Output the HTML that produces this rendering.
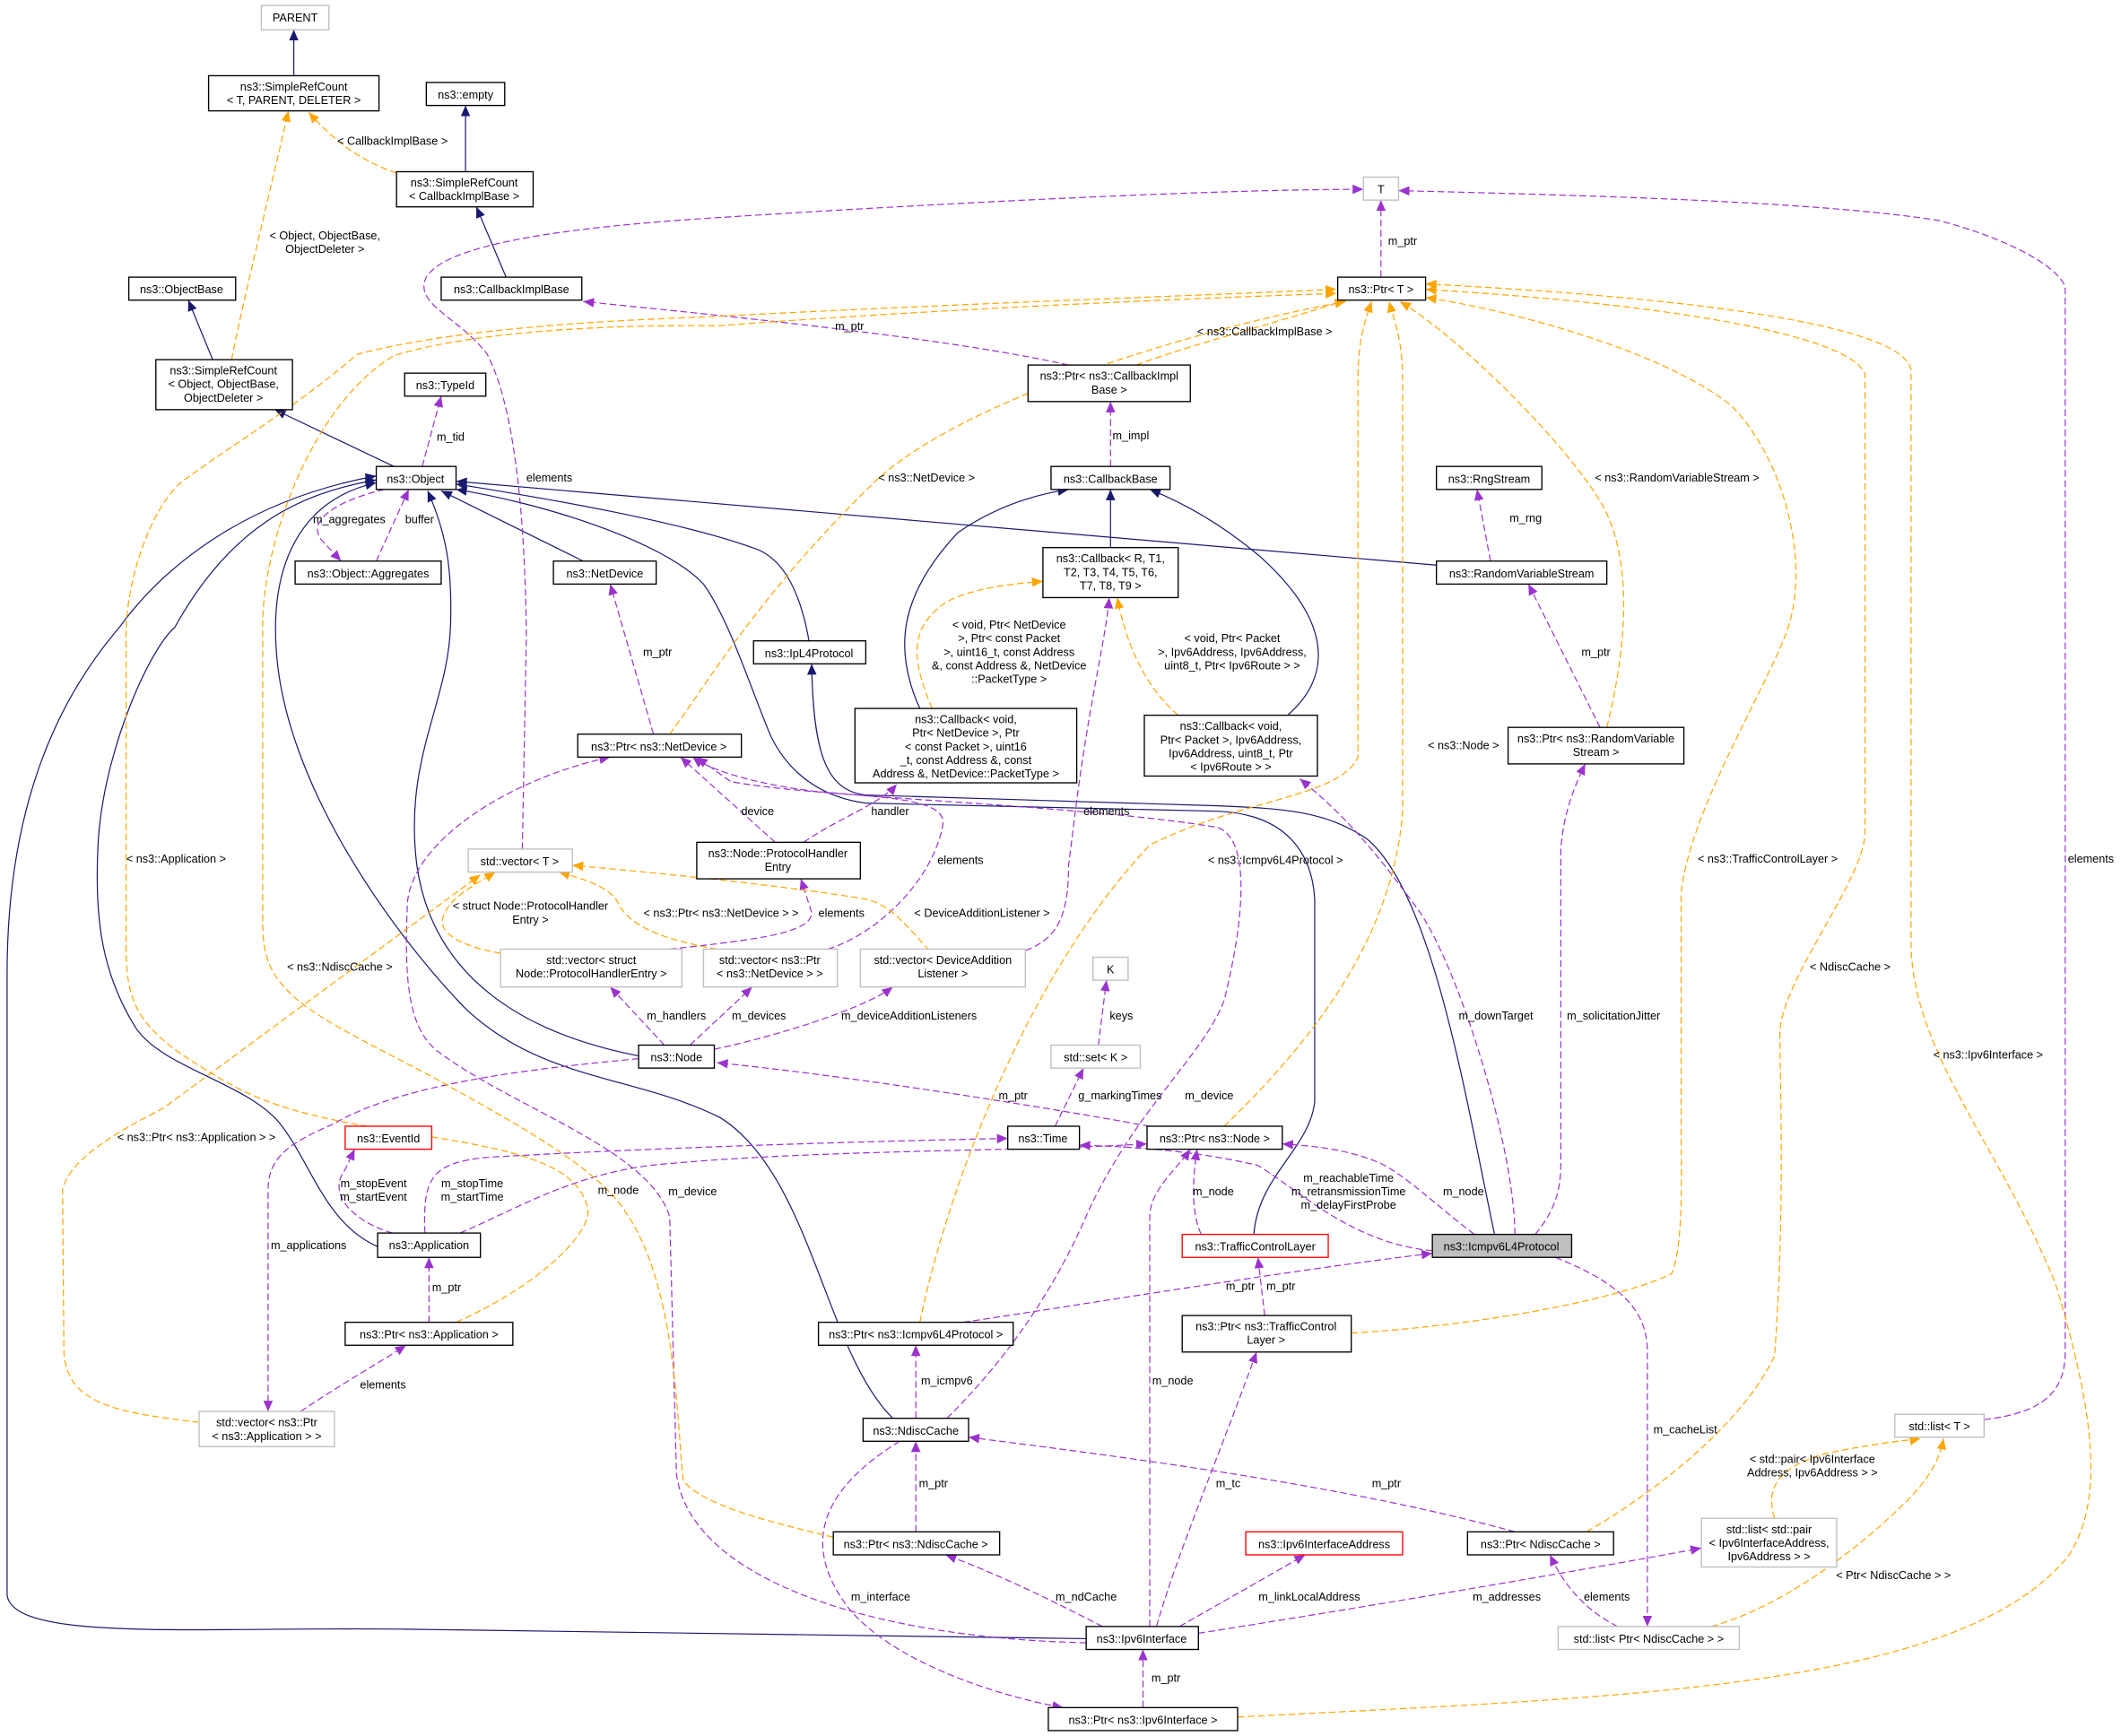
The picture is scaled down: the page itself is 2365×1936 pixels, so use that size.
<!DOCTYPE html>
<html><head><meta charset="utf-8"><style>
html,body{margin:0;padding:0;background:#fff;}
svg{display:block;}
text{font-family:"Liberation Sans",sans-serif;font-size:8.4px;fill:#000;}
.b{fill:#fff;stroke:#000;stroke-width:0.9;}
.g{fill:#fff;stroke:#bfbfbf;stroke-width:0.9;}
.r{fill:#fff;stroke:#ff0000;stroke-width:0.9;}
.h{fill:#bfbfbf;stroke:#000;stroke-width:0.9;}
.n{fill:none;stroke:#191970;stroke-width:0.8;marker-end:url(#mn);}
.p{fill:none;stroke:#9a32cd;stroke-width:0.8;stroke-dasharray:5,2.5;marker-end:url(#mp);}
.o{fill:none;stroke:#ffa500;stroke-width:0.8;stroke-dasharray:5,2.5;marker-end:url(#mo);}
</style></head><body>
<svg width="2365" height="1936" viewBox="0 0 1568 1284" xmlns="http://www.w3.org/2000/svg">
<defs>
<marker id="mn" markerUnits="userSpaceOnUse" markerWidth="10" markerHeight="8" refX="8" refY="3.5" orient="auto"><path d="M0,0 L8,3.5 L0,7 z" fill="#191970"/></marker>
<marker id="mp" markerUnits="userSpaceOnUse" markerWidth="10" markerHeight="8" refX="8" refY="3.5" orient="auto"><path d="M0,0 L8,3.5 L0,7 z" fill="#9a32cd"/></marker>
<marker id="mo" markerUnits="userSpaceOnUse" markerWidth="10" markerHeight="8" refX="8" refY="3.5" orient="auto"><path d="M0,0 L8,3.5 L0,7 z" fill="#ffa500"/></marker>
</defs>
<rect width="1568" height="1284" fill="#fff"/>

<!-- navy edges -->
<path class="n" d="M217,56 L217,22"/>
<path class="n" d="M344,127 L344,78"/>
<path class="n" d="M374,205 L352,153"/>
<path class="n" d="M157,266 L139,222"/>
<path class="n" d="M291,345 L203,303"/>
<path class="n" d="M431,415 L326,363"/>
<path class="n" d="M472,781 C390,765 320,725 308,640 C298,560 332,520 333,460 C334,420 330,395 316,363"/>
<path class="n" d="M660,1049 C610,1000 600,870 533,827 C470,795 400,800 343,745 C290,690 210,580 204,480 C200,420 220,370 278,357"/>
<path class="n" d="M279,922 C240,905 230,860 206,830 C180,800 120,790 100,760 C75,720 70,680 72,630 C74,560 110,480 129,464 C170,390 220,365 278,355"/>
<path class="n" d="M803,1212 L300,1205 C150,1203 10,1215 5,1180 L5,720 C5,600 40,520 88,464 C120,420 180,370 278,352"/>
<path class="n" d="M598,474 C592,440 580,412 556,405 C500,385 400,368 337,358"/>
<path class="n" d="M1062,418 L337,356"/>
<path class="n" d="M927,913 C930,870 968,850 972,815 L972,665 C970,630 950,602 900,600 L640,594 C610,590 585,575 570,545 C555,510 540,460 520,432 C490,400 400,372 337,362"/>
<path class="n" d="M1105,913 C1085,820 1060,660 1010,620 C980,600 950,598 900,596 L640,588 C612,585 601,560 600,491"/>
<path class="n" d="M821,405 L821,362"/>
<path class="n" d="M680,524 C660,480 665,440 708,394 C740,372 770,365 790,362"/>
<path class="n" d="M952,529 C985,500 985,460 932,412 C900,385 870,370 850,362"/>

<!-- purple edges -->
<path class="p" d="M1021,205 L1021,148"/>
<path class="p" d="M790,270 C700,250 550,235 431,223"/>
<path class="p" d="M821,345 L821,297"/>
<path class="p" d="M312,345 L326,293"/>
<path class="p" d="M284,362 C250,370 225,385 238,400 L252,415"/>
<path class="p" d="M278,415 L302,362"/>
<path class="p" d="M1102,415 L1092,362"/>
<path class="p" d="M483,543 L451,432"/>
<path class="p" d="M1183,538 L1130,432"/>
<path class="p" d="M386,628 L389,470 C388,380 380,300 360,262 C340,235 305,225 315,205 C330,180 420,168 530,161 C700,150 900,140 1008,140"/>
<path class="p" d="M573,623 L503,560"/>
<path class="p" d="M594,623 C620,605 650,595 663,580"/>
<path class="p" d="M495,702 C560,695 600,690 600,675 L592,650"/>
<path class="p" d="M612,702 C650,690 690,650 697,610 C700,590 650,590 600,585 C560,580 525,570 512,560"/>
<path class="p" d="M758,703 C780,695 790,680 790,640 L795,600 C805,520 818,470 820,442"/>
<path class="p" d="M491,773 L451,730"/>
<path class="p" d="M510,773 L556,730"/>
<path class="p" d="M528,776 C580,765 640,745 660,730"/>
<path class="p" d="M472,783 C400,790 300,800 247,831 C215,845 198,855 198,880 L198,1044"/>
<path class="p" d="M850,833 C750,815 620,795 530,786"/>
<path class="p" d="M812,773 L818,725"/>
<path class="p" d="M780,833 L801,790"/>
<path class="p" d="M290,912 C265,905 240,885 255,865 L262,850"/>
<path class="p" d="M314,912 C312,870 320,860 360,856 C500,848 650,844 745,842"/>
<path class="p" d="M340,912 C380,895 420,870 480,862 C600,850 750,852 848,846"/>
<path class="p" d="M317,978 L317,930"/>
<path class="p" d="M222,1044 C250,1025 280,1008 300,995"/>
<path class="p" d="M1059,925 C1000,920 960,880 930,862 C880,850 830,848 798,847"/>
<path class="p" d="M1090,913 C1060,890 1040,870 1020,860 C995,850 975,848 948,846"/>
<path class="p" d="M888,913 C880,895 882,870 885,850"/>
<path class="p" d="M850,1203 L850,900 C850,880 870,865 880,850"/>
<path class="p" d="M935,973 L930,930"/>
<path class="p" d="M712,978 C800,965 950,940 1059,927"/>
<path class="p" d="M677,1049 L677,995"/>
<path class="p" d="M677,1133 L677,1066"/>
<path class="p" d="M815,1203 C780,1185 740,1165 699,1150"/>
<path class="p" d="M872,1203 L965,1150"/>
<path class="p" d="M886,1208 C1000,1190 1150,1165 1258,1145"/>
<path class="p" d="M855,1203 C870,1150 900,1080 929,1000"/>
<path class="p" d="M803,1215 C650,1212 510,1170 500,1090 L495,900 C480,850 380,820 324,778 C300,760 299,720 301,668 C305,620 380,575 451,560"/>
<path class="p" d="M700,1049 C760,990 790,930 805,895 C840,820 890,780 905,740 C920,680 925,620 900,612 C800,595 600,590 540,578 L515,560"/>
<path class="p" d="M665,1066 C610,1100 590,1140 627,1189 C660,1230 740,1255 786,1263"/>
<path class="p" d="M845,1263 L845,1220"/>
<path class="p" d="M1120,1133 C1000,1100 850,1080 716,1063"/>
<path class="p" d="M1150,930 C1200,950 1218,970 1218,1000 L1218,1203"/>
<path class="p" d="M1196,1203 C1170,1190 1155,1170 1146,1150"/>
<path class="p" d="M1467,1050 C1510,1045 1527,1030 1527,1000 L1527,212 C1520,195 1480,175 1433,163 C1350,150 1200,145 1034,141"/>
<path class="p" d="M1120,913 C1120,850 1080,720 1050,675 C1010,620 990,600 961,576"/>
<path class="p" d="M1135,913 C1150,895 1154,880 1154,860 L1154,628 C1156,600 1165,580 1172,565"/>

<!-- orange edges -->
<path class="o" d="M171,266 C180,220 200,140 213,82"/>
<path class="o" d="M293,128 C270,120 250,108 228,83"/>
<path class="o" d="M840,270 C880,255 940,240 995,222"/>
<path class="o" d="M495,543 C520,510 560,440 648,355 C720,290 900,240 995,223"/>
<path class="o" d="M1188,538 C1200,490 1210,420 1185,374 C1160,330 1080,250 1035,223"/>
<path class="o" d="M905,833 C960,780 1030,700 1037,600 L1037,280 C1037,250 1030,235 1027,223"/>
<path class="o" d="M680,978 C700,880 760,720 850,625 C920,590 990,590 1004,560 L1004,280 C1004,250 1010,235 1014,223"/>
<path class="o" d="M999,986 C1100,980 1200,960 1236,942 C1245,920 1243,870 1243,829 L1243,660 C1250,600 1300,520 1320,470 C1340,420 1320,340 1280,300 C1230,260 1120,230 1054,220"/>
<path class="o" d="M1173,1133 C1230,1100 1290,1050 1312,1003 C1320,900 1316,800 1316,762 C1320,720 1379,650 1379,615 L1379,277 C1370,250 1250,226 1054,214"/>
<path class="o" d="M915,1270 C1200,1255 1450,1250 1530,1150 C1555,1110 1550,1050 1520,950 C1480,850 1415,780 1413,700 L1413,273 C1405,240 1250,220 1054,210"/>
<path class="o" d="M337,978 C400,950 440,910 434,892 C425,860 380,850 300,838 C220,825 190,816 150,790 C100,760 93,740 93,700 L93,464 C95,420 115,370 136,355 C170,330 220,300 264,262 C330,245 420,238 530,234 C700,225 900,218 988,214"/>
<path class="o" d="M616,1137 C580,1128 520,1115 505,1095 C500,1050 500,950 462,896 C440,860 360,820 324,799 C280,775 228,752 210,730 C196,715 194,700 194,680 L194,460 C195,400 230,300 291,263 C350,245 450,240 530,241 C700,228 900,220 988,217"/>
<path class="o" d="M147,1052 C90,1045 49,1040 47,1000 L46,880 C50,860 80,840 120,820 L355,647"/>
<path class="o" d="M370,705 C340,700 325,690 327,680 C330,665 350,655 366,645"/>
<path class="o" d="M530,702 C490,695 465,685 457,668 C450,655 430,650 413,645"/>
<path class="o" d="M687,703 C670,685 660,670 640,665 C580,655 480,645 423,640"/>
<path class="o" d="M689,524 C675,490 670,465 700,445 C720,435 745,432 771,430"/>
<path class="o" d="M871,529 C855,515 835,490 826,442"/>
<path class="o" d="M1312,1123 C1305,1100 1315,1085 1350,1075 C1400,1065 1415,1065 1420,1064"/>
<path class="o" d="M1258,1205 C1320,1190 1380,1140 1410,1110 C1430,1090 1435,1075 1437,1064"/>

<!-- edge labels -->
<g text-anchor="middle">
<text x="290" y="107">&lt; CallbackImplBase &gt;</text>
<text x="240" y="177">&lt; Object, ObjectBase,</text>
<text x="240" y="187">ObjectDeleter &gt;</text>
<text x="1037" y="181">m_ptr</text>
<text x="628" y="244">m_ptr</text>
<text x="935" y="248">&lt; ns3::CallbackImplBase &gt;</text>
<text x="836" y="325">m_impl</text>
<text x="333" y="326">m_tid</text>
<text x="406" y="356">elements</text>
<text x="685" y="356">&lt; ns3::NetDevice &gt;</text>
<text x="1240" y="356">&lt; ns3::RandomVariableStream &gt;</text>
<text x="258" y="387">m_aggregates</text>
<text x="310" y="387">buffer</text>
<text x="1128" y="386">m_rng</text>
<text x="486" y="485">m_ptr</text>
<text x="1180" y="485">m_ptr</text>
<text x="746" y="465">&lt; void, Ptr&lt; NetDevice</text>
<text x="746" y="475">&gt;, Ptr&lt; const Packet</text>
<text x="746" y="485">&gt;, uint16_t, const Address</text>
<text x="746" y="495">&amp;, const Address &amp;, NetDevice</text>
<text x="746" y="505">::PacketType &gt;</text>
<text x="911" y="475">&lt; void, Ptr&lt; Packet</text>
<text x="911" y="485">&gt;, Ipv6Address, Ipv6Address,</text>
<text x="911" y="495">uint8_t, Ptr&lt; Ipv6Route &gt; &gt;</text>
<text x="1082" y="554">&lt; ns3::Node &gt;</text>
<text x="560" y="603">device</text>
<text x="658" y="603">handler</text>
<text x="818" y="603">elements</text>
<text x="130" y="638">&lt; ns3::Application &gt;</text>
<text x="710" y="639">elements</text>
<text x="943" y="639">&lt; ns3::Icmpv6L4Protocol &gt;</text>
<text x="1307" y="638">&lt; ns3::TrafficControlLayer &gt;</text>
<text x="1546" y="638">elements</text>
<text x="392" y="673">&lt; struct Node::ProtocolHandler</text>
<text x="392" y="683">Entry &gt;</text>
<text x="533" y="678">&lt; ns3::Ptr&lt; ns3::NetDevice &gt; &gt;</text>
<text x="622" y="678">elements</text>
<text x="726" y="678">&lt; DeviceAdditionListener &gt;</text>
<text x="251" y="718">&lt; ns3::NdiscCache &gt;</text>
<text x="1368" y="718">&lt; NdiscCache &gt;</text>
<text x="500" y="754">m_handlers</text>
<text x="561" y="754">m_devices</text>
<text x="672" y="754">m_deviceAdditionListeners</text>
<text x="829" y="754">keys</text>
<text x="1106" y="754">m_downTarget</text>
<text x="1193" y="754">m_solicitationJitter</text>
<text x="1470" y="783">&lt; ns3::Ipv6Interface &gt;</text>
<text x="749" y="813">m_ptr</text>
<text x="828" y="813">g_markingTimes</text>
<text x="894" y="813">m_device</text>
<text x="145" y="844">&lt; ns3::Ptr&lt; ns3::Application &gt; &gt;</text>
<text x="997" y="874">m_reachableTime</text>
<text x="997" y="884">m_retransmissionTime</text>
<text x="997" y="894">m_delayFirstProbe</text>
<text x="276" y="878">m_stopEvent</text>
<text x="276" y="888">m_startEvent</text>
<text x="349" y="878">m_stopTime</text>
<text x="349" y="888">m_startTime</text>
<text x="457" y="883">m_node</text>
<text x="512" y="884">m_device</text>
<text x="897" y="884">m_node</text>
<text x="1082" y="884">m_node</text>
<text x="917" y="954">m_ptr</text>
<text x="947" y="954">m_ptr</text>
<text x="330" y="955">m_ptr</text>
<text x="228" y="924">m_applications</text>
<text x="283" y="1027">elements</text>
<text x="700" y="1024">m_icmpv6</text>
<text x="867" y="1024">m_node</text>
<text x="1246" y="1060">m_cacheList</text>
<text x="1340" y="1082">&lt; std::pair&lt; Ipv6Interface</text>
<text x="1340" y="1092">Address, Ipv6Address &gt; &gt;</text>
<text x="690" y="1100">m_ptr</text>
<text x="908" y="1100">m_tc</text>
<text x="1025" y="1100">m_ptr</text>
<text x="1400" y="1168">&lt; Ptr&lt; NdiscCache &gt; &gt;</text>
<text x="651" y="1184">m_interface</text>
<text x="803" y="1184">m_ndCache</text>
<text x="968" y="1184">m_linkLocalAddress</text>
<text x="1114" y="1184">m_addresses</text>
<text x="1188" y="1184">elements</text>
<text x="862" y="1244">m_ptr</text>
</g>

<!-- nodes -->
<g text-anchor="middle">
<rect class="g" x="193" y="4" width="50" height="18"/><text x="218" y="16">PARENT</text>
<rect class="b" x="154" y="56" width="126" height="26"/><text x="217" y="67">ns3::SimpleRefCount</text><text x="217" y="77">&lt; T, PARENT, DELETER &gt;</text>
<rect class="b" x="315" y="61" width="58" height="17"/><text x="344" y="73">ns3::empty</text>
<rect class="b" x="293" y="127" width="101" height="26"/><text x="343" y="138">ns3::SimpleRefCount</text><text x="343" y="148">&lt; CallbackImplBase &gt;</text>
<rect class="b" x="95" y="205" width="79" height="17"/><text x="134" y="217">ns3::ObjectBase</text>
<rect class="b" x="326" y="205" width="104" height="17"/><text x="378" y="217">ns3::CallbackImplBase</text>
<rect class="b" x="115" y="266" width="101" height="37"/><text x="165" y="277">ns3::SimpleRefCount</text><text x="165" y="287">&lt; Object, ObjectBase,</text><text x="165" y="297">ObjectDeleter &gt;</text>
<rect class="g" x="1008" y="131" width="26" height="17"/><text x="1021" y="143">T</text>
<rect class="b" x="989" y="205" width="65" height="17"/><text x="1021" y="217">ns3::Ptr&lt; T &gt;</text>
<rect class="b" x="760" y="270" width="120" height="27"/><text x="820" y="281">ns3::Ptr&lt; ns3::CallbackImpl</text><text x="820" y="291">Base &gt;</text>
<rect class="b" x="299" y="276" width="60" height="17"/><text x="329" y="288">ns3::TypeId</text>
<rect class="b" x="278" y="345" width="59" height="17"/><text x="307" y="357">ns3::Object</text>
<rect class="b" x="777" y="345" width="88" height="17"/><text x="821" y="357">ns3::CallbackBase</text>
<rect class="b" x="1062" y="345" width="78" height="17"/><text x="1101" y="357">ns3::RngStream</text>
<rect class="b" x="218" y="415" width="108" height="17"/><text x="272" y="427">ns3::Object::Aggregates</text>
<rect class="b" x="409" y="415" width="76" height="17"/><text x="447" y="427">ns3::NetDevice</text>
<rect class="b" x="771" y="405" width="100" height="37"/><text x="821" y="416">ns3::Callback&lt; R, T1,</text><text x="821" y="426">T2, T3, T4, T5, T6,</text><text x="821" y="436">T7, T8, T9 &gt;</text>
<rect class="b" x="1062" y="415" width="126" height="17"/><text x="1125" y="427">ns3::RandomVariableStream</text>
<rect class="b" x="557" y="474" width="83" height="17"/><text x="598" y="486">ns3::IpL4Protocol</text>
<rect class="b" x="632" y="524" width="164" height="55"/><text x="714" y="535">ns3::Callback&lt; void,</text><text x="714" y="545">Ptr&lt; NetDevice &gt;, Ptr</text><text x="714" y="555">&lt; const Packet &gt;, uint16</text><text x="714" y="565">_t, const Address &amp;, const</text><text x="714" y="575">Address &amp;, NetDevice::PacketType &gt;</text>
<rect class="b" x="846" y="529" width="128" height="45"/><text x="910" y="540">ns3::Callback&lt; void,</text><text x="910" y="550">Ptr&lt; Packet &gt;, Ipv6Address,</text><text x="910" y="560">Ipv6Address, uint8_t, Ptr</text><text x="910" y="570">&lt; Ipv6Route &gt; &gt;</text>
<rect class="b" x="1115" y="538" width="130" height="27"/><text x="1180" y="549">ns3::Ptr&lt; ns3::RandomVariable</text><text x="1180" y="559">Stream &gt;</text>
<rect class="b" x="427" y="543" width="121" height="17"/><text x="487" y="555">ns3::Ptr&lt; ns3::NetDevice &gt;</text>
<rect class="g" x="346" y="628" width="77" height="17"/><text x="384" y="640">std::vector&lt; T &gt;</text>
<rect class="b" x="515" y="623" width="121" height="27"/><text x="575" y="634">ns3::Node::ProtocolHandler</text><text x="575" y="644">Entry</text>
<rect class="g" x="370" y="702" width="134" height="28"/><text x="437" y="713">std::vector&lt; struct</text><text x="437" y="723">Node::ProtocolHandlerEntry &gt;</text>
<rect class="g" x="520" y="702" width="99" height="28"/><text x="569" y="713">std::vector&lt; ns3::Ptr</text><text x="569" y="723">&lt; ns3::NetDevice &gt; &gt;</text>
<rect class="g" x="636" y="702" width="122" height="28"/><text x="697" y="713">std::vector&lt; DeviceAddition</text><text x="697" y="723">Listener &gt;</text>
<rect class="g" x="808" y="708" width="26" height="17"/><text x="821" y="720">K</text>
<rect class="g" x="777" y="773" width="66" height="17"/><text x="810" y="785">std::set&lt; K &gt;</text>
<rect class="b" x="472" y="773" width="56" height="17"/><text x="500" y="785">ns3::Node</text>
<rect class="r" x="255" y="833" width="64" height="17"/><text x="287" y="845">ns3::EventId</text>
<rect class="b" x="745" y="833" width="53" height="17"/><text x="771" y="845">ns3::Time</text>
<rect class="b" x="848" y="833" width="100" height="17"/><text x="898" y="845">ns3::Ptr&lt; ns3::Node &gt;</text>
<rect class="b" x="279" y="912" width="76" height="18"/><text x="317" y="924">ns3::Application</text>
<rect class="r" x="874" y="913" width="108" height="17"/><text x="928" y="925">ns3::TrafficControlLayer</text>
<rect class="h" x="1059" y="913" width="103" height="17"/><text x="1110" y="925">ns3::Icmpv6L4Protocol</text>
<rect class="b" x="255" y="978" width="124" height="17"/><text x="317" y="990">ns3::Ptr&lt; ns3::Application &gt;</text>
<rect class="b" x="605" y="978" width="144" height="17"/><text x="677" y="990">ns3::Ptr&lt; ns3::Icmpv6L4Protocol &gt;</text>
<rect class="b" x="874" y="973" width="125" height="27"/><text x="936" y="984">ns3::Ptr&lt; ns3::TrafficControl</text><text x="936" y="994">Layer &gt;</text>
<rect class="g" x="147" y="1044" width="100" height="26"/><text x="197" y="1055">std::vector&lt; ns3::Ptr</text><text x="197" y="1065">&lt; ns3::Application &gt; &gt;</text>
<rect class="b" x="638" y="1049" width="78" height="17"/><text x="677" y="1061">ns3::NdiscCache</text>
<rect class="g" x="1401" y="1046" width="66" height="17"/><text x="1434" y="1058">std::list&lt; T &gt;</text>
<rect class="b" x="616" y="1133" width="123" height="17"/><text x="677" y="1145">ns3::Ptr&lt; ns3::NdiscCache &gt;</text>
<rect class="r" x="921" y="1133" width="116" height="17"/><text x="979" y="1145">ns3::Ipv6InterfaceAddress</text>
<rect class="b" x="1085" y="1133" width="108" height="17"/><text x="1139" y="1145">ns3::Ptr&lt; NdiscCache &gt;</text>
<rect class="g" x="1258" y="1123" width="100" height="36"/><text x="1308" y="1134">std::list&lt; std::pair</text><text x="1308" y="1144">&lt; Ipv6InterfaceAddress,</text><text x="1308" y="1154">Ipv6Address &gt; &gt;</text>
<rect class="b" x="803" y="1203" width="83" height="17"/><text x="844" y="1215">ns3::Ipv6Interface</text>
<rect class="g" x="1152" y="1203" width="134" height="17"/><text x="1219" y="1215">std::list&lt; Ptr&lt; NdiscCache &gt; &gt;</text>
<rect class="b" x="775" y="1263" width="140" height="17"/><text x="845" y="1275">ns3::Ptr&lt; ns3::Ipv6Interface &gt;</text>
</g>
</svg>
</body></html>
